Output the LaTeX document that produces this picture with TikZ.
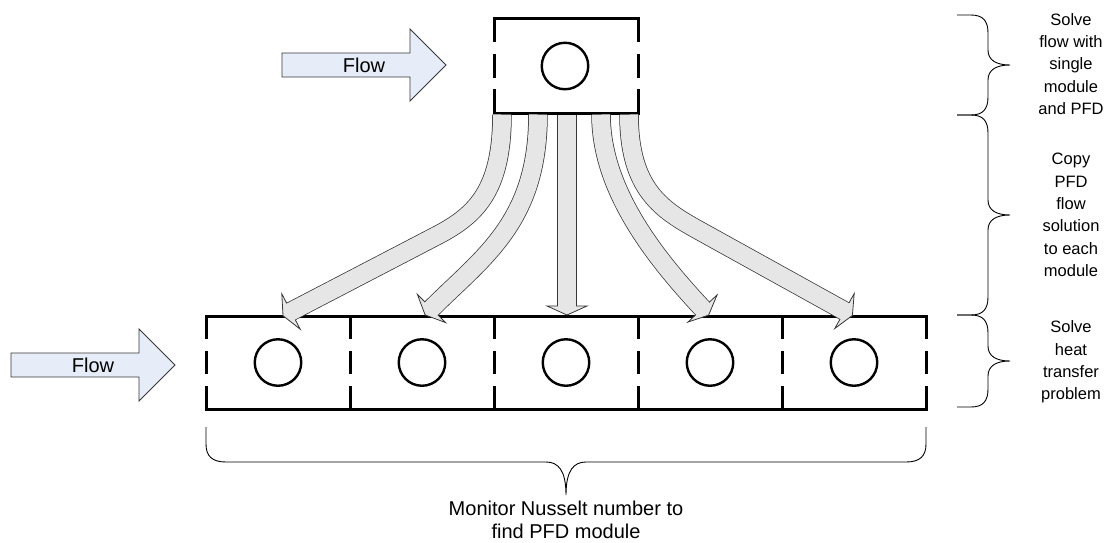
\documentclass[tikz,border=0pt]{standalone}
\usepackage{fontspec}
\setmainfont{Liberation Sans}
\definecolor{flowblue}{RGB}{230,237,248}
\definecolor{shaftgray}{RGB}{230,230,230}
\definecolor{edgegray}{RGB}{55,55,55}
\newcommand{\mybrace}[3]{%
  \draw[brace] (957,#1) -- (971,#1) .. controls (983,#1) and (988,{#1+6}) .. (988,{#1+18})
    -- (988,{#2-15}) .. controls (988,{#2-5}) and (996,#2) .. (1010,#2)
    .. controls (996,#2) and (988,{#2+5}) .. (988,{#2+15})
    -- (988,{#3-18}) .. controls (988,{#3-6}) and (983,#3) .. (971,#3) -- (957,#3);}
\begin{document}
\begin{tikzpicture}[x=1pt,y=-1pt,
  boxline/.style={line width=3pt, line cap=rect},
  sidedash/.style={line width=3pt, dash pattern=on 23pt off 12pt},
  topdash/.style={line width=3pt, dash pattern=on 24pt off 11.5pt},
  ring/.style={circle, draw, line width=2.4pt, minimum size=46.5pt, inner sep=0pt},
  boxnode/.style={inner sep=0pt, outer sep=0pt},
  flowarrow/.style={draw=edgegray, line width=0.8pt, fill=flowblue, line join=miter},
  shaftout/.style={line width=19.5pt, edgegray},
  shaftin/.style={line width=18pt, shaftgray},
  headshape/.style={fill=shaftgray, draw=edgegray, line width=0.8pt, line join=miter},
  brace/.style={line width=0.9pt},
  lbl/.style={font=\fontsize{20pt}{23pt}\selectfont, align=center, inner sep=0pt},
  note/.style={font=\fontsize{16.5pt}{22.3pt}\selectfont, align=center, inner sep=0pt}
]
\useasboundingbox (0,0) rectangle (1104,542);

% ---- top module box
\node[boxnode, minimum width=144pt, minimum height=95pt] (top) at (566,65.5) {};
\node[ring] (tc) at (565,66) {};
\draw[boxline] (top.north west) -- (top.north east);
\draw[boxline] (top.south west) -- (top.south east);
\draw[topdash] (top.north west) -- (top.south west);
\draw[topdash] (top.north east) -- (top.south east);

% ---- bottom module row
\foreach \i/\x in {1/278,2/422,3/566,4/710,5/854}{
  \node[boxnode, minimum width=144pt, minimum height=93pt] (m\i) at (\x,362.5) {};
  \node[ring] (c\i) at (\x,362.5) {};
}
\draw[boxline] (m1.north west) -- (m5.north east);
\draw[boxline] (m1.south west) -- (m5.south east);
\draw[sidedash] (m1.north west) -- (m1.south west);
\foreach \i in {1,...,5}{
  \draw[sidedash] (m\i.north east) -- (m\i.south east);
}

% ---- flow arrows
\draw[flowarrow] (282,53) -- (410,53) -- (410,29) -- (446,65) -- (410,101) -- (410,77) -- (282,77) -- cycle;
\node[lbl] (flowtop) at (364,65) {Flow};
\draw[flowarrow] (11,353) -- (139,353) -- (139,329) -- (175,365) -- (139,401) -- (139,377) -- (11,377) -- cycle;
\node[lbl] (flowbot) at (93,365) {Flow};

% ---- copy arrows (connectors)
\coordinate (s1) at (502,114.5);
\coordinate (s2) at (538,114.5);
\coordinate (s3) at (567,114.5);
\coordinate (s4) at (601,114.5);
\coordinate (s5) at (629,114.5);
\coordinate (e1) at (289.7,312.2);
\coordinate (e2) at (430.4,309.6);
\coordinate (e3) at (567,307.5);
\coordinate (e4) at (703.5,309.6);
\coordinate (e5) at (845.8,311.7);
\foreach \st in {shaftout}{
  \draw[\st] (s1) .. controls (502,190) and (476,215) .. (438,235) -- (291,311.5) -- (e1);
  \draw[\st] (s2) .. controls (538,222) and (483,257) .. (431.5,308.5) -- (e2);
  \draw[\st] (s3) -- (e3);
  \draw[\st] (s4) .. controls (601,190) and (654.8,257.3) .. (702.5,308.5) -- (e4);
  \draw[\st] (s5) .. controls (629,190) and (662.4,210.2) .. (700,231) -- (844.5,311) -- (e5);
}
\draw[headshape] (300.2,329.2) -- (283.0,315.7) -- (281.8,293.8) -- cycle;
\draw[headshape] (445.6,322.6) -- (425.1,314.9) -- (417.4,294.4) -- cycle;
\draw[headshape] (547,306) -- (567,315) -- (587,306) -- cycle;
\draw[headshape] (717.1,294.9) -- (708.6,315.1) -- (687.9,322.1) -- cycle;
\draw[headshape] (854.2,293.5) -- (852.4,315.4) -- (834.8,328.5) -- cycle;
\foreach \st in {shaftin}{
  \draw[\st] (s1) .. controls (502,190) and (476,215) .. (438,235) -- (291,311.5) -- (e1);
  \draw[\st] (s2) .. controls (538,222) and (483,257) .. (431.5,308.5) -- (e2);
  \draw[\st] (s3) -- (e3);
  \draw[\st] (s4) .. controls (601,190) and (654.8,257.3) .. (702.5,308.5) -- (e4);
  \draw[\st] (s5) .. controls (629,190) and (662.4,210.2) .. (700,231) -- (844.5,311) -- (e5);
}

% ---- right braces and notes
\mybrace{15}{65}{115}
\mybrace{115}{215}{315}
\mybrace{315}{361}{407}
\node[note] (n1) at (1071,64) {Solve\\flow with\\single\\module\\and PFD};
\node[note] (n2) at (1071,215) {Copy\\PFD\\flow\\solution\\to each\\module};
\node[note] (n3) at (1071,362) {Solve\\heat\\transfer\\problem};

% ---- bottom brace and note
\draw[brace] (206,427) -- (206,444) .. controls (206,456) and (212,462) .. (226,462)
  -- (546,462) .. controls (558,462) and (566,470) .. (566,495)
  .. controls (566,470) and (574,462) .. (586,462)
  -- (906,462) .. controls (920,462) and (926,456) .. (926,444) -- (926,427);
\node[lbl] (n4) at (566,520) {Monitor Nusselt number to\\find PFD module};
\end{tikzpicture}
\end{document}
